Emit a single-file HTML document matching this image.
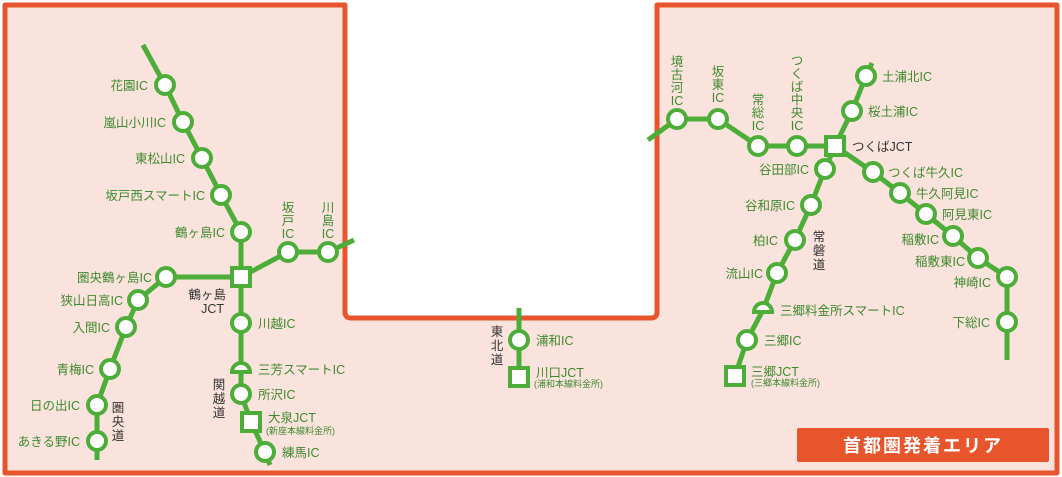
<!DOCTYPE html>
<html><head><meta charset="utf-8"><style>
body{margin:0;background:#fff}
svg{display:block}
text{font-family:"Liberation Sans","Noto Sans CJK JP",sans-serif}
.l{fill:#3d8a2e;font-size:12.5px}
.s{fill:#3d8a2e;font-size:9px}
.r{fill:#333;font-size:12.5px}
</style></head><body>
<svg width="1062" height="477" viewBox="0 0 1062 477">
<path d="M5,5 H345 V312 Q345,318 351,318 H651 Q657,318 657,312 V5 H1057 V473 H5 Z" fill="#fbe3dd" stroke="#e8542c" stroke-width="5" stroke-linejoin="round"/>
<g fill="none" stroke="#4cae38" stroke-width="5">
<polyline points="143,45 165,85 183,122 202,158 221,195 241,232 241,277 241,323 241,394 251,422 265,452 270,465"/>
<polyline points="241,277 288,252 328,252 354,240"/>
<polyline points="241,277 166,277 138,300 126,327 110,369 97,405 97,441 97,460"/>
<polyline points="519,308 519,377"/>
<polyline points="648,140 677,119 718,119 758,146 797,146 835,146 852,111 866,76 872,63"/>
<polyline points="835,146 825,169 811,205 795,240 777,273 763,310 747,340 735,376"/>
<polyline points="835,146 873,172 900,193 926,214 953,236 978,258 1007,277 1007,322 1007,360"/>
</g>
<g fill="#fff" stroke="#4cae38" stroke-width="4">
<circle cx="165" cy="85" r="9"/><circle cx="183" cy="122" r="9"/><circle cx="202" cy="158" r="9"/><circle cx="221" cy="195" r="9"/><circle cx="241" cy="232" r="9"/>
<circle cx="288" cy="252" r="9"/><circle cx="328" cy="252" r="9"/>
<circle cx="166" cy="277" r="9"/><circle cx="138" cy="300" r="9"/><circle cx="126" cy="327" r="9"/><circle cx="110" cy="369" r="9"/><circle cx="97" cy="405" r="9"/><circle cx="97" cy="441" r="9"/>
<circle cx="241" cy="323" r="9"/><circle cx="241" cy="394" r="9"/><circle cx="265" cy="452" r="9"/>
<circle cx="519" cy="340" r="9"/>
<circle cx="677" cy="119" r="9"/><circle cx="718" cy="119" r="9"/><circle cx="758" cy="146" r="9"/><circle cx="797" cy="146" r="9"/>
<circle cx="852" cy="111" r="9"/><circle cx="866" cy="76" r="9"/>
<circle cx="825" cy="169" r="9"/><circle cx="811" cy="205" r="9"/><circle cx="795" cy="240" r="9"/><circle cx="777" cy="273" r="9"/><circle cx="747" cy="340" r="9"/>
<circle cx="873" cy="172" r="9"/><circle cx="900" cy="193" r="9"/><circle cx="926" cy="214" r="9"/><circle cx="953" cy="236" r="9"/><circle cx="978" cy="258" r="9"/><circle cx="1007" cy="277" r="9"/><circle cx="1007" cy="322" r="9"/>
<rect x="232" y="268" width="18" height="18"/><rect x="242" y="413" width="18" height="18"/>
<rect x="510" y="368" width="18" height="18"/><rect x="826" y="137" width="18" height="18"/><rect x="726" y="367" width="18" height="18"/>
<path d="M232,372 A9,9 0 0 1 250,372 Z"/><path d="M754,312 A9,9 0 0 1 772,312 Z"/>
</g>
<g class="l" text-anchor="end">
<text x="148" y="90">花園IC</text><text x="166" y="127">嵐山小川IC</text><text x="185" y="163">東松山IC</text><text x="205" y="200">坂戸西スマートIC</text><text x="225" y="237">鶴ヶ島IC</text>
<text x="152" y="282">圏央鶴ヶ島IC</text><text x="123" y="305">狭山日高IC</text><text x="110" y="332">入間IC</text><text x="94" y="374">青梅IC</text><text x="80" y="410">日の出IC</text><text x="80" y="446">あきる野IC</text>
<text x="809" y="174">谷田部IC</text><text x="795" y="210">谷和原IC</text><text x="778" y="245">柏IC</text><text x="763" y="278">流山IC</text>
<text x="939" y="244">稲敷IC</text><text x="965" y="266">稲敷東IC</text><text x="991" y="287">神崎IC</text><text x="990" y="327">下総IC</text>
</g>
<g class="l">
<text x="258" y="328">川越IC</text><text x="258" y="374">三芳スマートIC</text><text x="258" y="399">所沢IC</text><text x="268" y="422">大泉JCT</text><text x="282" y="457">練馬IC</text>
<text x="536" y="345">浦和IC</text><text x="536" y="377">川口JCT</text>
<text x="882" y="81">土浦北IC</text><text x="868" y="116">桜土浦IC</text>
<text x="888" y="177">つくば牛久IC</text><text x="916" y="198">牛久阿見IC</text><text x="942" y="219">阿見東IC</text>
<text x="780" y="315">三郷料金所スマートIC</text><text x="764" y="345">三郷IC</text><text x="751" y="376">三郷JCT</text>
</g>
<g class="s"><text x="266" y="434">(新座本線料金所)</text><text x="534" y="387">(浦和本線料金所)</text><text x="751" y="386">(三郷本線料金所)</text></g>
<g class="l" text-anchor="middle">
<text x="288" y="212">坂</text><text x="288" y="225">戸</text><text x="288" y="238">IC</text>
<text x="328" y="212">川</text><text x="328" y="225">島</text><text x="328" y="238">IC</text>
<text x="677" y="66">境</text><text x="677" y="79">古</text><text x="677" y="92">河</text><text x="677" y="105">IC</text>
<text x="718" y="76">坂</text><text x="718" y="89">東</text><text x="718" y="102">IC</text>
<text x="758" y="104">常</text><text x="758" y="117">総</text><text x="758" y="130">IC</text>
<text x="797" y="65">つ</text><text x="797" y="78">く</text><text x="797" y="91">ば</text><text x="797" y="104">中</text><text x="797" y="117">央</text><text x="797" y="130">IC</text>
</g>
<g class="r" text-anchor="middle">
<text x="118" y="412">圏</text><text x="118" y="426">央</text><text x="118" y="440">道</text>
<text x="219" y="389">関</text><text x="219" y="403">越</text><text x="219" y="417">道</text>
<text x="497" y="336">東</text><text x="497" y="350">北</text><text x="497" y="364">道</text>
<text x="819" y="241">常</text><text x="819" y="255">磐</text><text x="819" y="269">道</text>
</g>
<g class="r" text-anchor="end"><text x="226" y="299">鶴ヶ島</text><text x="224" y="313">JCT</text></g>
<text class="r" x="852" y="151">つくばJCT</text>
<rect x="797" y="428" width="252" height="34" rx="2" fill="#e8542c"/>
<text x="923" y="452" text-anchor="middle" fill="#fff" font-size="18" font-weight="bold" letter-spacing="2">首都圏発着エリア</text>
</svg>
</body></html>
